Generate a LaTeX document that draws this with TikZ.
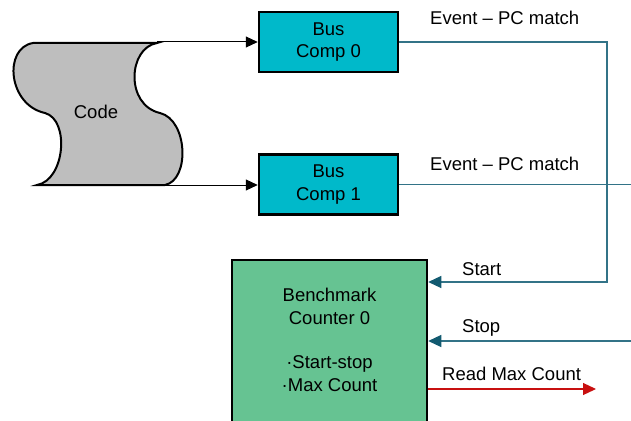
\documentclass[tikz,border=0pt]{standalone}
\usepackage{fontspec}
\setmainfont{Liberation Sans}
\usetikzlibrary{arrows.meta}
\definecolor{diagcolorgray}{RGB}{190,190,190}
\definecolor{diagcolorcomp}{RGB}{0,185,202}
\definecolor{diagcolorbench}{RGB}{102,195,146}
\definecolor{diagcolorline}{RGB}{50,115,135}
\definecolor{diagcolortip}{RGB}{18,90,112}
\definecolor{diagcolorread}{RGB}{200,16,16}
\begin{document}
\begin{tikzpicture}[x=1pt,y=-1pt
                ,font=\fontsize{18.5}{22.5}\selectfont
                ,codeshape/.style={draw=black,fill=diagcolorgray,line width=2pt}
                ,compbox/.style={draw=black,fill=diagcolorcomp,line width=2.5pt,minimum width=139pt,minimum height=60pt,inner sep=0pt,align=center}
                ,counterbox/.style={draw=black,fill=diagcolorbench,line width=2.5pt,minimum width=195pt,minimum height=210pt,inner sep=0pt}
                ,codearrow/.style={draw=black,line width=1pt,-{Triangle[length=12pt,width=11pt]}}
                ,feedline/.style={draw=diagcolorline,line width=1.2pt}
                ,feedarrow/.style={feedline,-{Triangle[length=13pt,width=12pt,color=diagcolortip]}}
                ,readarrow/.style={draw=diagcolorread,line width=1.2pt,-{Triangle[length=13pt,width=12pt]}}
                ,sigtext/.style={anchor=base west,inner sep=0pt}
            ]
            \useasboundingbox (0,0) rectangle (631,420);
            \clip (0,0) rectangle (631,420);
            % code tape
            \draw[codeshape] (33,43) -- (157,43) .. controls (128,48) and (125,105) .. (160,113) .. controls (188,120) and (190,180) .. (165,185) -- (37,185) .. controls (65,180) and (70,120) .. (45,113) .. controls (8,105) and (3,48) .. cycle;
            \node (code) at (96,112) {Code};
            \coordinate (codetop) at (157,42);
            \coordinate (codebottom) at (165,185);
            % comparators and counter
            \node[compbox] (bus0) at (328.5,42) {Bus\\Comp 0};
            \node[compbox] (bus1) at (328.5,184.5) {Bus\\Comp 1};
            \node[counterbox] (counter) at (329.5,365) {};
            \node[align=center,inner sep=0pt] (countertext) at (329.5,340) {Benchmark\\Counter 0\\[22pt]·Start-stop\\·Max Count};
            \draw[codearrow] (codetop) -- (codetop -| bus0.west);
            \draw[codearrow] (codebottom) -- (codebottom -| bus1.west);
            % signals
            \coordinate (turn0) at (607,282);
            \coordinate (bus1out) at (631,184.5);
            \coordinate (stopin) at (631,341);
            \coordinate (readend) at (596,389);
            \draw[feedline] (bus1.east) -- (bus1out);
            \draw[feedarrow] (bus0.east) -| (turn0) -- (turn0 -| counter.east);
            \draw[feedarrow] (stopin) -- (stopin -| counter.east);
            \draw[readarrow] (readend -| counter.east) -- (readend);
            \node[sigtext] (event0) at (430,25) {Event – PC match};
            \node[sigtext] (event1) at (430,170) {Event – PC match};
            \node[sigtext] (start) at (462,275) {Start};
            \node[sigtext] (stop) at (462,332) {Stop};
            \node[sigtext] (readmax) at (442,380) {Read Max Count};
        \end{tikzpicture}
\end{document}
